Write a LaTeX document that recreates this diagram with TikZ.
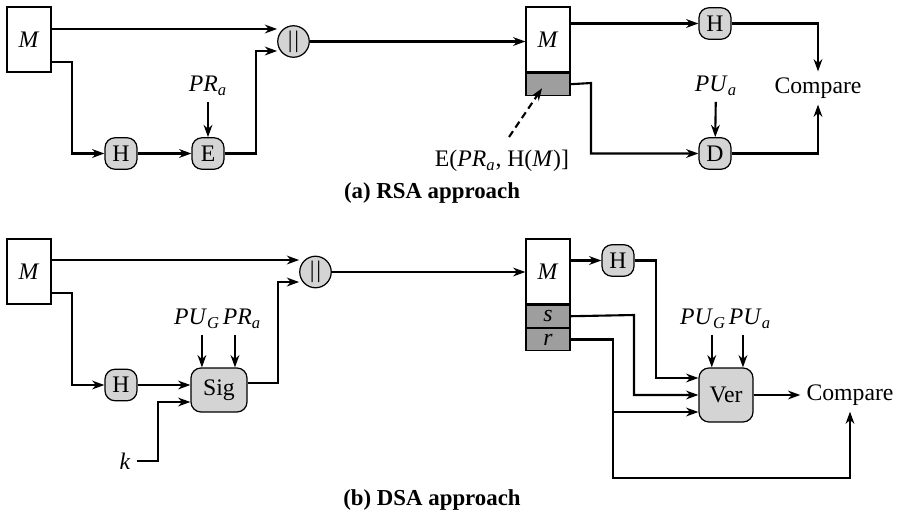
\documentclass[tikz,border=0pt]{standalone}
\usepackage{fontspec}
\setmainfont{Liberation Serif}
\usepackage{tikz}
\usetikzlibrary{positioning,arrows.meta}

\newcommand{\ital}[2]{\textit{#1}\textsubscript{\textit{#2}}}

\begin{document}
\begin{tikzpicture}[x=0.02cm, y=-0.02cm,
    font=\fontsize{13.5}{15}\selectfont,
    arr/.style={line width=1.2pt, -{Stealth[length=7pt,width=5pt]}},
    msgbox/.style={draw, line width=0.7pt, fill=white, minimum width=0.88cm, minimum height=1.3cm, inner sep=0pt},
    sigpart/.style={draw, line width=0.7pt, fill=black!38, minimum width=0.88cm, minimum height=0.44cm, inner sep=0pt},
    fn/.style={draw, line width=0.7pt, fill=black!17, rounded corners=0.2cm, minimum width=0.64cm, minimum height=0.63cm, inner sep=0pt},
    bigfn/.style={fn, minimum width=1.12cm, minimum height=0.88cm},
    catnode/.style={draw, line width=0.7pt, circle, fill=black!17, minimum size=0.63cm, inner sep=0pt},
    caption/.style={font=\fontsize{13}{15}\selectfont\bfseries}]
    \useasboundingbox (0,0) rectangle (897,515);

    % (a) RSA approach
    \node[msgbox] (m1) at (29,39.5) {\textit{M}};
    \node[catnode] (cat1) at (293.5,41.5) {|\kern1pt|};
    \node[fn] (h1) at (121,153.5) {H};
    \node[fn] (e1) at (208,153.5) {E};
    \node (pr1) at (208,86) {\ital{PR}{a}};
    \node[msgbox] (m2) at (548,39.5) {\textit{M}};
    \node[sigpart, below=0pt of m2] (g2) {};
    \node[fn] (h2) at (715,23.5) {H};
    \node[fn] (d2) at (715,153.5) {D};
    \node (pu2) at (716,86) {\ital{PU}{a}};
    \node (cmp1) at (818,88) {Compare};
    \node (lab1) at (502,161) {E(\ital{PR}{a}, H(\textit{M})]};
    \node[caption] (capa) at (432,193) {(a) RSA approach};

    \draw[arr] (m1.east|-0,29) -- (cat1.west|-0,29);
    \draw[arr] (m1.east|-0,62) -- (72,62) |- (h1);
    \draw[arr] (h1) -- (e1);
    \draw[arr] (pr1) -- (e1);
    \draw[arr] (e1) -- (256,153.5) |- (cat1.west|-0,51);
    \draw[arr] (cat1) -- (m2.west|-cat1);
    \draw[arr] (m2.east|-h2) -- (h2);
    \draw[arr] (h2) -| (cmp1);
    \draw[arr] (g2.east) -- (591,83) |- (d2);
    \draw[arr] (pu2) -- (d2);
    \draw[arr] (d2) -| (cmp1);
    \draw[arr, dashed, dash pattern=on 4pt off 2.5pt] ([xshift=4pt,yshift=4pt]lab1.north) -- ([xshift=-3.4pt,yshift=-2.3pt]g2.center);

    % (b) DSA approach
    \node[msgbox] (m3) at (29,271.5) {\textit{M}};
    \node[catnode] (cat2) at (315.5,272) {|\kern1pt|};
    \node[fn] (h3) at (121,385) {H};
    \node[bigfn] (sig) at (219,390) {Sig};
    \node (pug1) at (197,319) {\ital{PU}{G}};
    \node (pra) at (242,319) {\ital{PR}{a}};
    \node (k) at (125,461) {\textit{k}};
    \node[msgbox] (m4) at (548,271.5) {\textit{M}};
    \node[sigpart, below=0pt of m4] (s4) {\textit{s}};
    \node[sigpart, below=0pt of s4] (r4) {\textit{r}};
    \node[fn] (h4) at (618,260.5) {H};
    \node[bigfn, minimum width=1.08cm, minimum height=1.08cm] (ver) at (726,395) {Ver};
    \node (pug2) at (703,319) {\ital{PU}{G}};
    \node (pua) at (750,319) {\ital{PU}{a}};
    \node (cmp2) at (850,395) {Compare};
    \node[caption] (capb) at (432,500) {(b) DSA approach};
    \coordinate (rb) at (613,412);

    \draw[arr] (m3.east|-0,260) -- (cat2.west|-0,260);
    \draw[arr] (m3.east|-0,293) -- (72,293) |- (h3);
    \draw[arr] (h3) -- (sig.west|-h3);
    \draw[arr] (k) -- (158,461) |- (sig.west|-0,402);
    \draw[arr] ([xshift=2.8pt]pug1.south) -- ([xshift=2.8pt]pug1.south|-sig.north);
    \draw[arr] ([xshift=-4pt]pra.south) -- ([xshift=-4pt]pra.south|-sig.north);
    \draw[arr] (sig.east|-0,383) -- (278,383) |- (cat2.west|-0,282);
    \draw[arr] (cat2) -- (m4.west|-cat2);
    \draw[arr] (m4.east|-h4) -- (h4);
    \draw[arr] (h4) -- (656,260.5) |- (ver.west|-0,378);
    \draw[arr] (s4.east) -- (634,315) |- (ver);
    \draw[arr] (r4.east) -| (613,478) -| (cmp2);
    \draw[arr] (rb) -- (ver.west|-rb);
    \draw[arr] ([xshift=5pt]pug2.south) -- ([xshift=5pt]pug2.south|-ver.north);
    \draw[arr] ([xshift=-4pt]pua.south) -- ([xshift=-4pt]pua.south|-ver.north);
    \draw[arr] (ver) -- (cmp2);
\end{tikzpicture}
\end{document}
